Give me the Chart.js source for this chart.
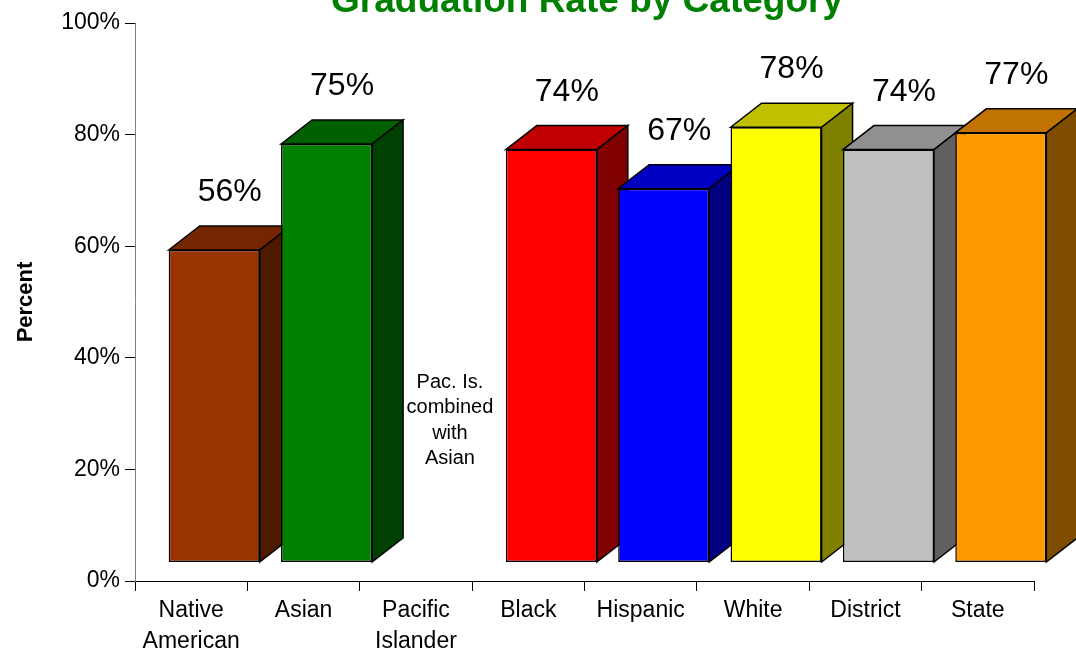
<!DOCTYPE html>
<html>
<head>
<meta charset="utf-8">
<script src="https://cdn.jsdelivr.net/npm/chart.js@4.4.1/dist/chart.umd.min.js"></script>
<style>
    html, body { margin: 0; padding: 0; background: #fff; }
    #wrap { width: 1076px; height: 654px; }
</style>
</head>
<body>
<div id="wrap"><canvas id="gradChart" width="1076" height="654"></canvas></div>
<script>
// data
const categories = [['Native', 'American'], 'Asian', ['Pacific', 'Islander'], 'Black', 'Hispanic', 'White', 'District', 'State'];
const rates = [56, 75, null, 74, 67, 78, 74, 77];
const yTickValues = [0, 20, 40, 60, 80, 100];
const pacNote = ['Pac. Is.', 'combined', 'with', 'Asian'];
const chartTitle = 'Graduation Rate by Category';

// colours: front, top, side of each box
const frontColors = ['#993300', '#008000', '#000000', '#FF0000', '#0000FF', '#FFFF00', '#C0C0C0', '#FF9900'];
const topColors   = ['#732600', '#006000', '#000000', '#C00000', '#0000C0', '#C0C000', '#909090', '#C07300'];
const sideColors  = ['#4D1A00', '#004000', '#000000', '#800000', '#000080', '#808000', '#606060', '#804D00'];

const FONT = "'Liberation Sans', Arial, Helvetica, sans-serif";
const shift = { x: 23, y: -18.5 };   // front face offset from the axis plane
const depth = { x: 31, y: -24 };     // box depth

// draws each bar as a box (front + top + side) in order, so later bars overlap earlier ones
const bars3d = {
    id: 'bars3d',
    beforeDatasetsDraw: function (chart) {
        const ctx = chart.ctx;
        const meta = chart.getDatasetMeta(0);
        ctx.save();
        ctx.translate(shift.x, shift.y);
        meta.data.forEach(function (bar, i) {
            if (rates[i] == null) return;
            const p = bar.getProps(['x', 'y', 'base', 'width'], true);
            const x0 = p.x - p.width / 2, x1 = p.x + p.width / 2;
            bar.draw(ctx);
            ctx.lineWidth = 1.5;
            ctx.strokeStyle = '#000';
            ctx.lineJoin = 'miter';

            // top face
            ctx.beginPath();
            ctx.moveTo(x0, p.y);
            ctx.lineTo(x0 + depth.x, p.y + depth.y);
            ctx.lineTo(x1 + depth.x, p.y + depth.y);
            ctx.lineTo(x1, p.y);
            ctx.closePath();
            ctx.fillStyle = topColors[i];
            ctx.fill();
            ctx.stroke();

            // side face
            ctx.beginPath();
            ctx.moveTo(x1, p.y);
            ctx.lineTo(x1 + depth.x, p.y + depth.y);
            ctx.lineTo(x1 + depth.x, p.base + depth.y);
            ctx.lineTo(x1, p.base);
            ctx.closePath();
            ctx.fillStyle = sideColors[i];
            ctx.fill();
            ctx.stroke();
        });
        ctx.restore();
        return false;
    },
    afterDraw: function (chart) {
        const ctx = chart.ctx;
        const xs = chart.scales.x, ys = chart.scales.y;
        ctx.save();

        // title (runs off the top edge like the original)
        ctx.fillStyle = '#008000';
        ctx.font = 'bold 37px ' + FONT;
        ctx.textAlign = 'center';
        ctx.textBaseline = 'alphabetic';
        ctx.fillText(chartTitle, 587, 12);

        // value labels
        ctx.fillStyle = '#000';
        ctx.font = '32px ' + FONT;
        chart.getDatasetMeta(0).data.forEach(function (bar, i) {
            if (rates[i] == null) return;
            ctx.fillText(rates[i] + '%', bar.x + shift.x + depth.x / 2, bar.y + shift.y - 49);
        });

        // note in the empty Pacific Islander slot
        ctx.font = '20px ' + FONT;
        const nx = xs.getPixelForValue(2) + shift.x + 11;
        const ny = ys.getPixelForValue(34.6);
        pacNote.forEach(function (line, k) {
            ctx.fillText(line, nx, ny + k * 25.3);
        });
        ctx.restore();
    }
};

const ctx1 = document.getElementById('gradChart').getContext('2d');
const gradChart = new Chart(ctx1, {
    type: 'bar',
    data: {
        labels: categories,
        datasets: [{
            label: 'Graduation Rate',
            data: rates,
            backgroundColor: frontColors,
            borderColor: '#000',
            borderWidth: 1.5,
            borderSkipped: false,
            barPercentage: 0.81,
            categoryPercentage: 1.0
        }]
    },
    plugins: [bars3d],
    options: {
        responsive: false,
        animation: false,
        layout: { padding: { top: 23, right: 42, left: 0, bottom: 0 } },
        plugins: {
            legend: { display: false },
            tooltip: { enabled: false }
        },
        scales: {
            x: {
                afterFit: function (scale) { scale.height = 73; },
                grid: {
                    offset: true,
                    drawOnChartArea: false,
                    tickLength: 10,
                    tickColor: '#000',
                    tickWidth: 1
                },
                border: { color: '#000', width: 1 },
                ticks: {
                    color: '#000',
                    padding: 4,
                    font: { family: FONT, size: 23, lineHeight: 1.35 },
                    maxRotation: 0,
                    autoSkip: false
                }
            },
            y: {
                min: 0,
                max: 100,
                afterFit: function (scale) { scale.width = 135; },
                afterBuildTicks: function (scale) {
                    scale.ticks = yTickValues.map(function (v) { return { value: v }; });
                },
                grid: {
                    drawOnChartArea: false,
                    tickLength: 10,
                    tickColor: '#000',
                    tickWidth: 1
                },
                border: { color: '#808080', width: 1 },
                ticks: {
                    color: '#000',
                    padding: 5,
                    font: { family: FONT, size: 23 },
                    callback: function (v) { return v + '%'; }
                },
                title: {
                    display: true,
                    text: 'Percent',
                    color: '#000',
                    font: { family: FONT, size: 22, weight: 'bold' },
                    padding: { top: 13, bottom: 0 }
                }
            }
        }
    }
});
</script>
</body>
</html>
